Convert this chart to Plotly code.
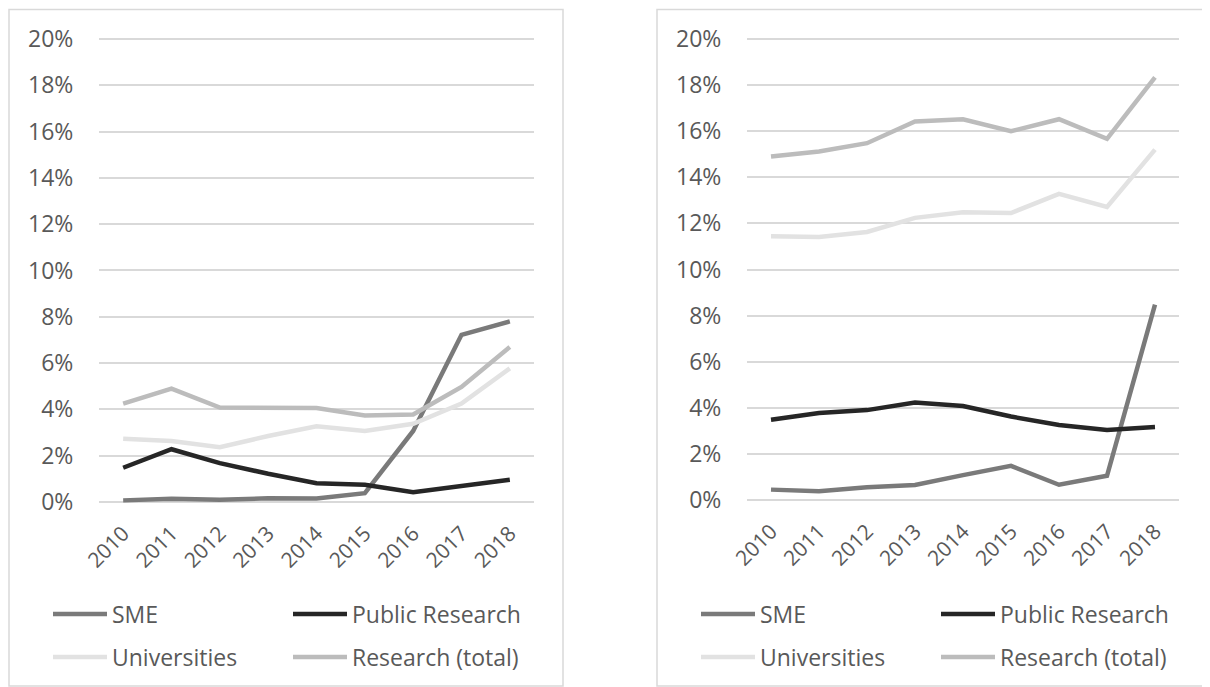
import plotly.graph_objects as go

years = ["2010", "2011", "2012", "2013", "2014", "2015", "2016", "2017", "2018"]

# Left panel values (share, fraction)
left_sme = [0.0007, 0.0014, 0.0010, 0.0016, 0.0015, 0.0038, 0.0307, 0.0722, 0.0780]
left_public = [0.0148, 0.0228, 0.0168, 0.0122, 0.0081, 0.0074, 0.0042, 0.0071, 0.0096]
left_univ = [0.0273, 0.0263, 0.0237, 0.0285, 0.0327, 0.0307, 0.0338, 0.0425, 0.0577]
left_total = [0.0425, 0.0490, 0.0408, 0.0407, 0.0406, 0.0374, 0.0378, 0.0497, 0.0670]

# Right panel values
right_sme = [0.0045, 0.0038, 0.0055, 0.0065, 0.0108, 0.0148, 0.0066, 0.0105, 0.0848]
right_public = [0.0348, 0.0377, 0.0390, 0.0423, 0.0408, 0.0362, 0.0325, 0.0304, 0.0317]
right_univ = [0.1144, 0.1141, 0.1163, 0.1224, 0.1248, 0.1245, 0.1328, 0.1271, 0.1520]
right_total = [0.1490, 0.1512, 0.1548, 0.1642, 0.1652, 0.1600, 0.1652, 0.1567, 0.1834]

series_names = ["SME", "Public Research", "Universities", "Research (total)"]
series_colors = ["#7a7a7a", "#262626", "#e2e2e2", "#bcbcbc"]

y_ticks = [0, 0.02, 0.04, 0.06, 0.08, 0.10, 0.12, 0.14, 0.16, 0.18, 0.20]

# page body has an 8px margin: figure covers screen pixels 8..1210 / 8..687
OFF = 8
W, H = 1210 - OFF, 687 - OFF
FONT = "Open Sans"
TXT = "#595959"
GRID = "#d9d9d9"


def px_x(p):
    return (p - OFF) / W


def px_y(p):
    return 1 - (p - OFF) / H


fig = go.Figure()

panels = [
    ("x", "y", [left_sme, left_public, left_univ, left_total], ["legend", "legend", "legend2", "legend2"]),
    ("x2", "y2", [right_sme, right_public, right_univ, right_total], ["legend3", "legend3", "legend4", "legend4"]),
]

for xa, ya, data, legs in panels:
    for name, color, vals, lg in zip(series_names, series_colors, data, legs):
        fig.add_trace(go.Scatter(
            x=years, y=vals, name=name, mode="lines",
            line=dict(color=color, width=4.5),
            xaxis=xa, yaxis=ya, legend=lg, showlegend=True,
            hoverinfo="skip",
        ))

pad = 0.003
common_y = dict(
    range=[-pad, 0.2 + pad], tickvals=y_ticks, tickformat=".0%",
    showgrid=True, gridcolor=GRID, gridwidth=1.5, zeroline=False,
    showline=False, ticks="outside", ticklen=20, tickcolor="rgba(0,0,0,0)",
    tickfont=dict(family=FONT, size=23, color=TXT), fixedrange=True,
    automargin=False,
)
common_x = dict(
    type="category", range=[-0.5, len(years) - 0.5],
    tickangle=-45, showgrid=False, zeroline=False, showline=False,
    ticks="outside", ticklen=3, tickcolor="rgba(0,0,0,0)",
    tickfont=dict(family=FONT, size=21, color=TXT), fixedrange=True,
    automargin=False,
)

lscale = (502 - 39) / 0.2
rscale = (500 - 39) / 0.2
fig.update_layout(
    width=W, height=H,
    margin=dict(l=0, r=0, t=0, b=0, autoexpand=False),
    paper_bgcolor="white", plot_bgcolor="white",
    xaxis=dict(domain=[px_x(99), px_x(534)], anchor="y", **common_x),
    yaxis=dict(domain=[px_y(502 + pad * lscale), px_y(39 - pad * lscale)], anchor="x", **common_y),
    xaxis2=dict(domain=[px_x(747), px_x(1179)], anchor="y2", **common_x),
    yaxis2=dict(domain=[px_y(500 + pad * rscale), px_y(39 - pad * rscale)], anchor="x2", **common_y),
)

leg_common = dict(
    orientation="h", xanchor="left", yanchor="middle",
    font=dict(family=FONT, size=23, color=TXT),
    bgcolor="rgba(0,0,0,0)", borderwidth=0,
    entrywidth=171, entrywidthmode="pixels", itemwidth=54,
    itemclick=False, itemdoubleclick=False,
)
fig.update_layout(
    legend=dict(x=px_x(48), y=px_y(614), **leg_common),
    legend2=dict(x=px_x(48), y=px_y(657), **leg_common),
    legend3=dict(x=px_x(696), y=px_y(614), **leg_common),
    legend4=dict(x=px_x(696), y=px_y(657), **leg_common),
)

# panel borders
for x0, x1 in [(9, 563), (657, 1208)]:
    fig.add_shape(type="rect", xref="paper", yref="paper",
                  x0=px_x(x0), x1=px_x(x1), y0=px_y(686), y1=px_y(9.5),
                  line=dict(color=GRID, width=1.5), fillcolor="rgba(0,0,0,0)", layer="below")

fig.write_html("out.html")
